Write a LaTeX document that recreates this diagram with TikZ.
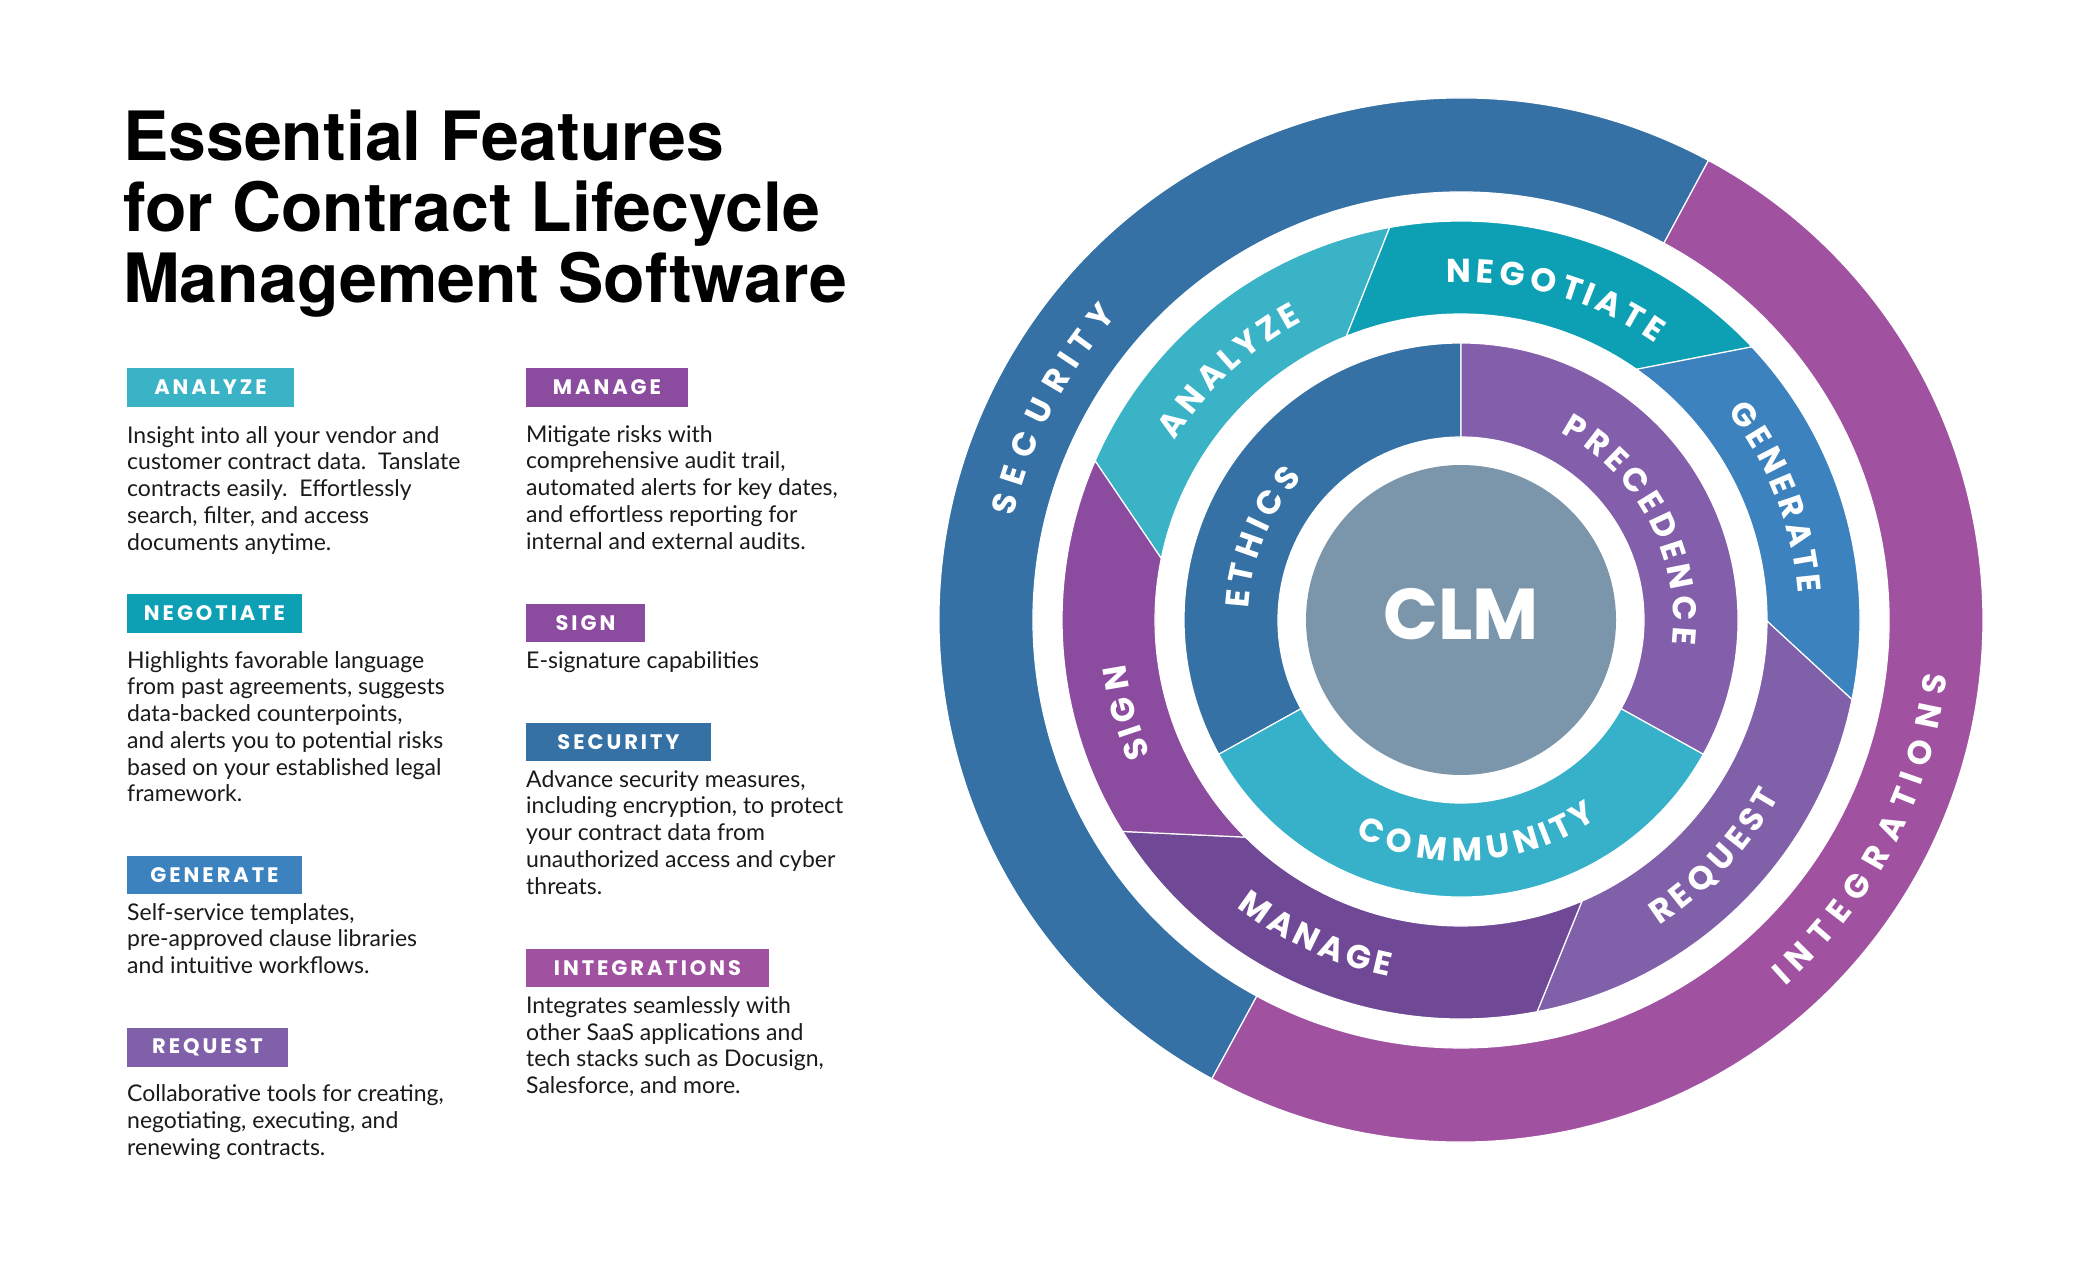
\documentclass[tikz,border=0pt]{standalone}
\usepackage{fontspec}
\setmainfont{Lato}
\newfontfamily\titlefont{TeX Gyre Heros}
\newfontfamily\ringfont{Poppins}
\newfontfamily\boxfont{Poppins}[LetterSpace=14]
\usetikzlibrary{decorations.text}

\definecolor{cSec}{HTML}{3571A4}
\definecolor{cInt}{HTML}{A052A0}
\definecolor{cAna}{HTML}{3AB3C6}
\definecolor{cNeg}{HTML}{0DA0B4}
\definecolor{cGen}{HTML}{3B82BF}
\definecolor{cReq}{HTML}{8160AA}
\definecolor{cMan}{HTML}{6F4995}
\definecolor{cSig}{HTML}{8B4B9F}
\definecolor{cEth}{HTML}{3571A4}
\definecolor{cPre}{HTML}{835EAB}
\definecolor{cCom}{HTML}{36B1C9}
\definecolor{cClm}{HTML}{7B96AA}
\definecolor{cTxt}{HTML}{1A1A1A}

\newcommand\plines[2]{\vtop{\baselineskip=#1\lineskiplimit=-100pt\relax\let\\\cr\halign{##\hfil\cr#2\crcr}}}

% middle ring segment: colour, outer start, outer end, inner start, inner end
\newcommand\mseg[5]{\filldraw[fill=#1, draw=white, line width=1.2pt] (#2:399) arc[start angle=#2, end angle=#3, radius=399] -- (#5:306) arc[start angle=#5, end angle=#4, radius=306] -- cycle;}
% inner ring segment
\newcommand\iseg[3]{\filldraw[fill=#1, draw=white, line width=1.2pt] (#2:277) arc[start angle=#2, end angle=#3, radius=277] -- (#3:183) arc[start angle=#3, end angle=#2, radius=183] -- cycle;}
% text along an arc: radius, start, end, text
\newcommand\ringtext[4]{\path[decorate, decoration={text effects along path, text={#4}, text effects/.cd, text along path, fit text to path, characters={text=white, anchor=base, inner sep=0pt, font=\ringfont\bfseries\fontsize{33}{33}\selectfont}}] (#2:#1) arc[start angle=#2, end angle=#3, radius=#1];}

\tikzset{
  lbox/.style={inner sep=0pt, minimum height=38.5pt, text=white, font=\boxfont\bfseries\fontsize{21}{21}\selectfont},
  para/.style={inner sep=0pt, anchor=base west, text=cTxt, font=\fontsize{23}{26.7}\selectfont},
}

\begin{document}
\begin{tikzpicture}[x=1pt, y=1pt]
\fill[white] (0,0) rectangle (2100,1275);
\useasboundingbox (0,0) rectangle (2100,1275);

% title
\node[inner sep=0pt, anchor=base west, font=\titlefont\bfseries\fontsize{68}{70.7}\selectfont] (title) at (123,1114.3) {\plines{70.7pt}{Essential Features\\for Contract Lifecycle\\Management Software}};

% label boxes
\node[lbox, fill=cAna, minimum width=167pt] (bAna) at (210.5,887.5) {ANALYZE};
\node[lbox, fill=cNeg, minimum width=175pt] (bNeg) at (214.5,661.5) {NEGOTIATE};
\node[lbox, fill=cGen, minimum width=175pt] (bGen) at (214.5,400) {GENERATE};
\node[lbox, fill=cReq, minimum width=161pt] (bReq) at (207.5,227.5) {REQUEST};
\node[lbox, fill=cSig, minimum width=162pt] (bMan) at (607,887.5) {MANAGE};
\node[lbox, fill=cSig, minimum width=119pt] (bSig) at (585.5,652) {SIGN};
\node[lbox, fill=cSec, minimum width=185pt] (bSec) at (618.5,533) {SECURITY};
\node[lbox, fill=cInt, minimum width=243pt] (bInt) at (647.5,307) {INTEGRATIONS};

% paragraphs
\node[para] (pAna) at (127,831.7) {\plines{26.7pt}{Insight into all your vendor and\\customer contract data.\ \ Tanslate\\contracts easily.\ \ Effortlessly\\search, filter, and access\\documents anytime.}};
\node[para] (pNeg) at (127,606.7) {\plines{26.7pt}{Highlights favorable language\\from past agreements, suggests\\data-backed counterpoints,\\and alerts you to potential risks\\based on your established legal\\framework.}};
\node[para] (pGen) at (127,355) {\plines{26.7pt}{Self-service templates,\\pre-approved clause libraries\\and intuitive workflows.}};
\node[para] (pReq) at (127,173.3) {\plines{26.7pt}{Collaborative tools for creating,\\negotiating, executing, and\\renewing contracts.}};
\node[para] (pMan) at (526,832.7) {\plines{26.7pt}{Mitigate risks with\\comprehensive audit trail,\\automated alerts for key dates,\\and effortless reporting for\\internal and external audits.}};
\node[para] (pSig) at (526,606.7) {\plines{26.7pt}{E-signature capabilities}};
\node[para] (pSec) at (526,487.7) {\plines{26.7pt}{Advance security measures,\\including encryption, to protect\\your contract data from\\unauthorized access and cyber\\threats.}};
\node[para] (pInt) at (526,261.7) {\plines{26.7pt}{Integrates seamlessly with\\other SaaS applications and\\tech stacks such as Docusign,\\Salesforce, and more.}};

% wheel
\begin{scope}[shift={(1461,655)}]
  % outer ring
  \filldraw[fill=cSec, draw=white, line width=1.2pt] (61.7:522) arc[start angle=61.7, end angle=241.5, radius=522] -- (241.5:428) arc[start angle=241.5, end angle=61.7, radius=428] -- cycle;
  \filldraw[fill=cInt, draw=white, line width=1.2pt] (241.5:522) arc[start angle=241.5, end angle=421.7, radius=522] -- (61.7:428) arc[start angle=421.7, end angle=241.5, radius=428] -- cycle;
  % middle ring
  \mseg{cAna}{100.3}{156.5}{112}{168.4}
  \mseg{cNeg}{43.2}{100.3}{55}{112}
  \mseg{cGen}{-11.5}{43.2}{-0.2}{55}
  \mseg{cReq}{-79}{-11.5}{-66.7}{-0.2}
  \mseg{cMan}{-148}{-79}{-134.8}{-66.7}
  \mseg{cSig}{156.5}{212}{168.4}{225.2}
  % inner ring
  \iseg{cEth}{90}{209}
  \iseg{cPre}{-29}{90}
  \iseg{cCom}{209}{331}
  % centre
  \node[circle, fill=cClm, minimum size=310pt, inner sep=0pt] (clm) at (0,0) {};
  \node[text=white, inner sep=0pt, font=\ringfont\bfseries\fontsize{72}{72}\selectfont] (clmt) at (0,6) {CLM};
  % ring labels
  \ringtext{459}{167}{138.5}{SECURITY}
  \ringtext{489}{-48.5}{-6.5}{INTEGRATIONS}
  \ringtext{338}{148}{118}{ANALYZE}
  \ringtext{338}{92.5}{55}{NEGOTIATE}
  \ringtext{338}{38}{4.5}{GENERATE}
  \ringtext{338}{203.5}{187.5}{SIGN}
  \ringtext{364}{-57}{-29}{REQUEST}
  \ringtext{364}{232}{258.5}{MANAGE}
  \ringtext{213}{177}{138}{ETHICS}
  \ringtext{212}{62}{-6.5}{PRECEDENCE}
  \ringtext{241}{244}{304.5}{COMMUNITY}
\end{scope}
\end{tikzpicture}
\end{document}
